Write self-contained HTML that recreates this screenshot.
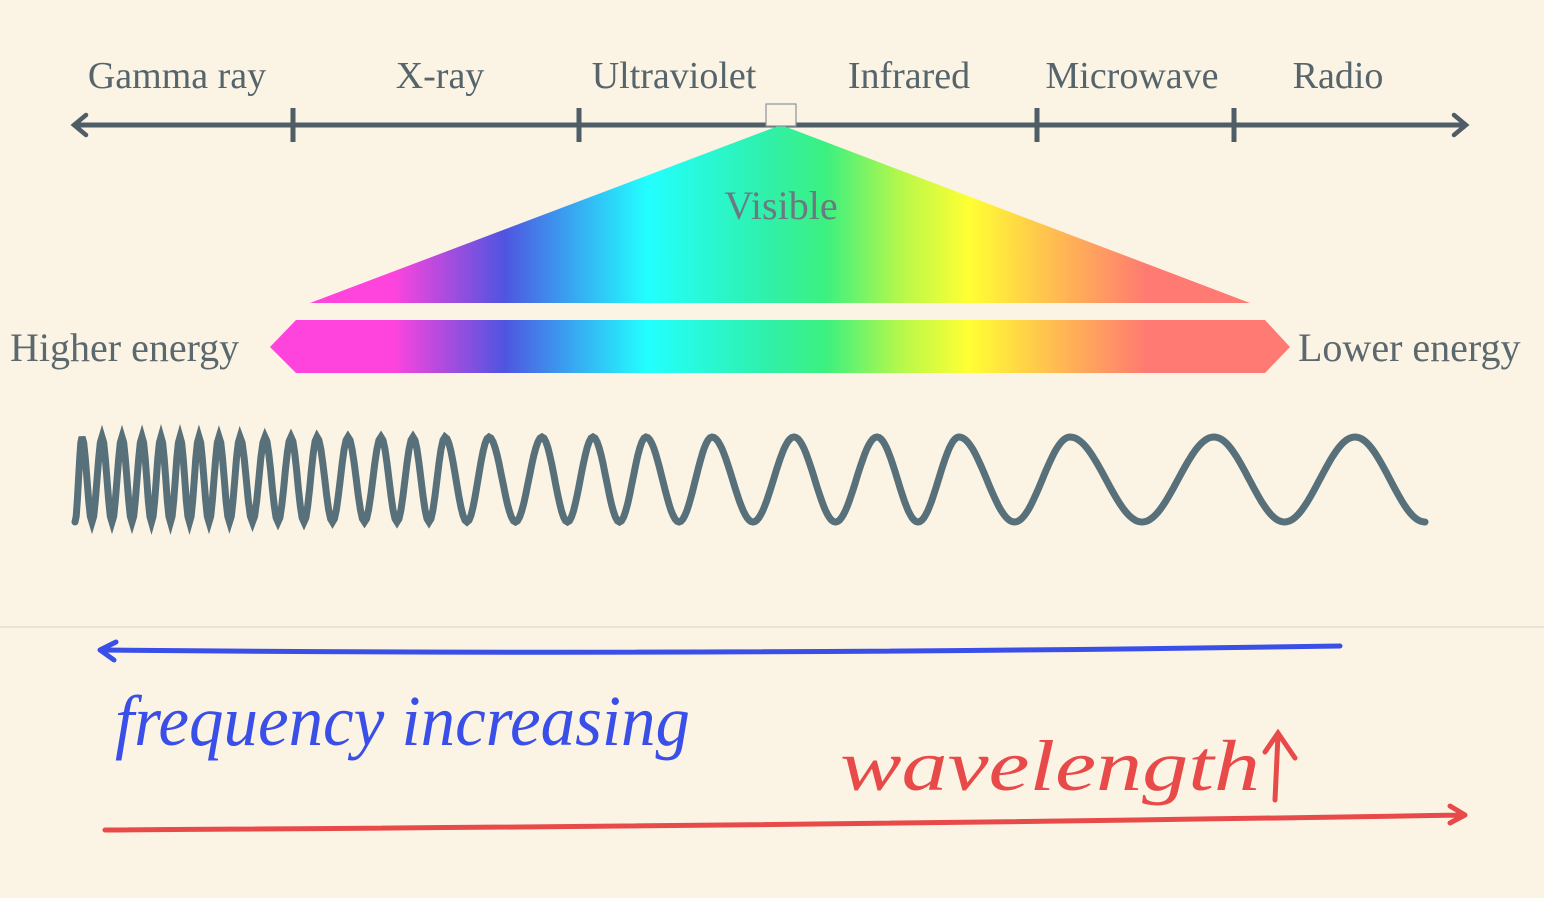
<!DOCTYPE html>
<html><head><meta charset="utf-8"><style>
html,body{margin:0;padding:0;background:#fbf4e4;}
svg{display:block;}
text{font-family:"Liberation Serif",serif;}
</style></head><body>
<svg width="1544" height="898" viewBox="0 0 1544 898">
<defs>
<linearGradient id="spec" gradientUnits="userSpaceOnUse" x1="270" y1="0" x2="1290" y2="0">
<stop offset="0" stop-color="#ff44dd"/>
<stop offset="0.12" stop-color="#ff44dd"/>
<stop offset="0.23" stop-color="#4f55e0"/>
<stop offset="0.29" stop-color="#3a9ff0"/>
<stop offset="0.37" stop-color="#22ffff"/>
<stop offset="0.49" stop-color="#30f0a8"/>
<stop offset="0.545" stop-color="#3cf080"/>
<stop offset="0.62" stop-color="#b8f84a"/>
<stop offset="0.685" stop-color="#ffff33"/>
<stop offset="0.78" stop-color="#ffb455"/>
<stop offset="0.86" stop-color="#ff7a72"/>
<stop offset="1" stop-color="#ff7a72"/>
</linearGradient>
</defs>
<rect width="1544" height="898" fill="#fbf4e4"/>
<line x1="0" y1="627" x2="1544" y2="627" stroke="#e4ddd0" stroke-width="1.5"/>

<g id="axis"></g>
<g id="labels"></g>

<polygon points="781,125 1250,303 310,303" fill="url(#spec)"/>
<rect x="766" y="104" width="30" height="22" fill="#fbf4e4" stroke="#8a9498" stroke-width="1.2"/>
<text x="781" y="219" font-size="40" fill="#6b7a80" text-anchor="middle">Visible</text>
<polygon points="296,320 1265,320 1290,347 1265,373 296,373 270,347" fill="url(#spec)"/>
<text x="10" y="361" font-size="40" fill="#5b686e">Higher energy</text>
<text x="1298" y="361" font-size="40" fill="#5b686e">Lower energy</text>

<path id="wave" fill="none" stroke="#58707a" stroke-width="7" stroke-linecap="round"/>

<g>
<path d="M1340,646 Q700,656 100,650 M100,650 L116,642 M100,650 L114,660" fill="none" stroke="#3a4ee8" stroke-width="5" stroke-linecap="round"/>
<text x="115" y="745" font-size="72" font-style="italic" fill="#3a4ee8" textLength="575" lengthAdjust="spacingAndGlyphs">frequency increasing</text>
</g>
<g>
<path d="M105,830 Q800,826 1465,815 M1465,815 L1450,806 M1465,815 L1450,823" fill="none" stroke="#e84a4a" stroke-width="5" stroke-linecap="round"/>
<text x="840" y="790" font-size="72" font-style="italic" fill="#e84a4a" textLength="420" lengthAdjust="spacingAndGlyphs">wavelength</text>
<path d="M1275,800 L1278,735 M1265,752 L1278,733 L1295,758" fill="none" stroke="#e84a4a" stroke-width="5" stroke-linecap="round"/>
</g>
</svg>
<script>
const bandNames = ["Gamma ray","X-ray","Ultraviolet","Infrared","Microwave","Radio"];
const bandLabelX = [177,440,674,909,1132,1338];
const tickX = [293,579,1037,1234];
const wavePeaks = [82,102,122,142,161,180,199,219,240,265,291,317,348,381,413,445,489,542,593,646,712,794,877,959,1070,1214,1355];

const NS="http://www.w3.org/2000/svg";
const axisG=document.getElementById('axis');
const ay=125;
function mk(tag,attrs,parent){const e=document.createElementNS(NS,tag);for(const k in attrs)e.setAttribute(k,attrs[k]);parent.appendChild(e);return e;}
const ln=mk('line',{x1:74,y1:ay,x2:1464,y2:ay,stroke:'#4f5e66','stroke-width':5},axisG);


const la=mk('path',{d:'M86,115 L74,125 L86,135',fill:'none',stroke:'#4f5e66','stroke-width':4.5,'stroke-linecap':'round'},axisG);


const ra=mk('path',{d:'M1454,115 L1466,125 L1454,135',fill:'none',stroke:'#4f5e66','stroke-width':4.5,'stroke-linecap':'round'},axisG);


tickX.forEach(x=>{
  const t=mk('line',{x1:x,y1:ay-17,x2:x,y2:ay+17,stroke:'#4f5e66','stroke-width':5},axisG);
  
  
});
const labelsG=document.getElementById('labels');
bandNames.forEach((n,i)=>{
  const t=mk('text',{x:bandLabelX[i],y:88,'font-size':38,fill:'#56646b','text-anchor':'middle'},labelsG);
  t.textContent=n;
  
  
});
// wave
const waveTop=437, waveBot=522;
const pts=[];
const startX=75, endX=1425;
const nodes=[{x:startX,y:waveBot}];
for(let i=0;i<wavePeaks.length;i++){
  nodes.push({x:wavePeaks[i],y:waveTop});
  const nx = i<wavePeaks.length-1 ? (wavePeaks[i]+wavePeaks[i+1])/2 : endX;
  nodes.push({x:nx,y:waveBot});
}
for(let i=0;i<nodes.length-1;i++){
  const a=nodes[i],b=nodes[i+1];
  const steps=Math.max(6,Math.round((b.x-a.x)/2));
  for(let s=0;s<=steps;s++){
    const f=s/steps;
    const x=a.x+(b.x-a.x)*f;
    const y=a.y+(b.y-a.y)*(1-Math.cos(Math.PI*f))/2;
    pts.push(x.toFixed(1)+','+y.toFixed(1));
  }
}
document.getElementById('wave').setAttribute('d','M'+pts.join(' L'));
</script>
</body></html>
